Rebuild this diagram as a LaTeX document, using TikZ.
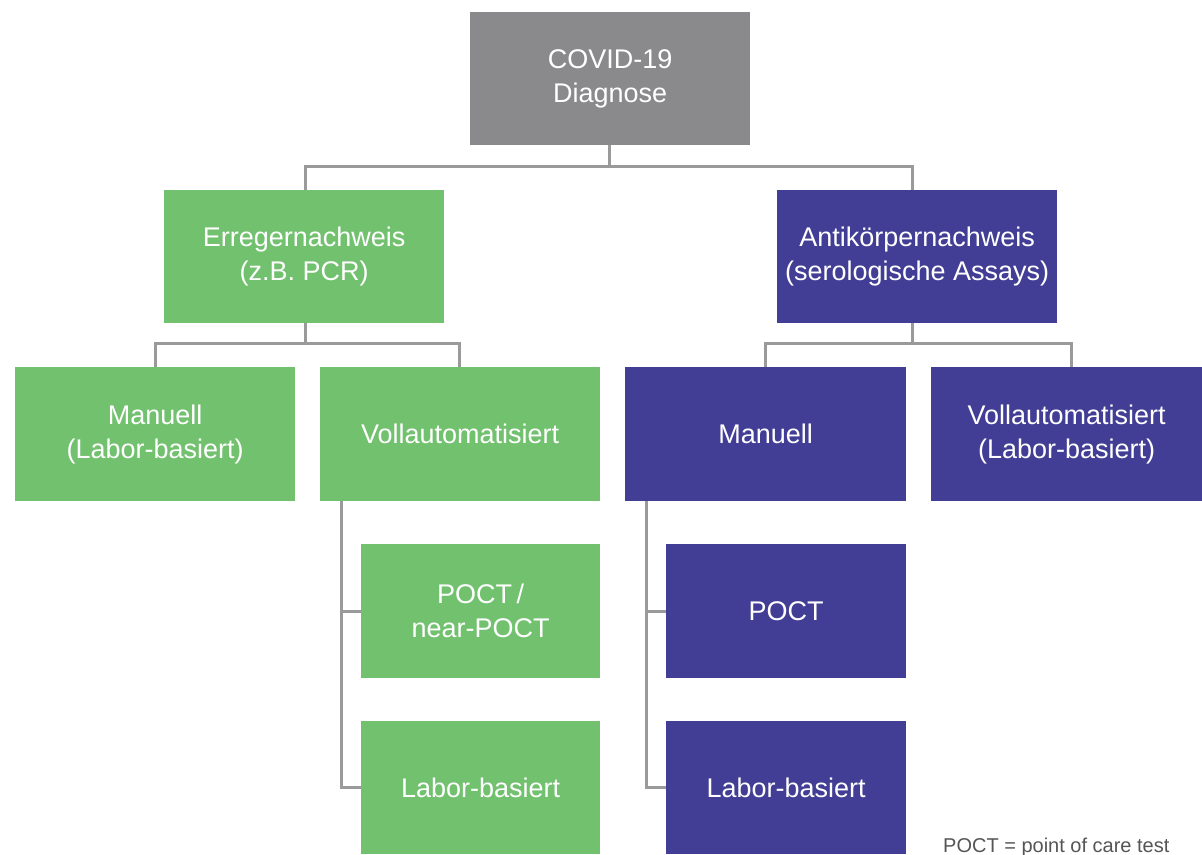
\documentclass[tikz,border=0pt]{standalone}
\usepackage{fontspec}
\setmainfont{Liberation Sans}
\definecolor{cgray}{HTML}{8A8A8C}
\definecolor{cgreen}{HTML}{72C16F}
\definecolor{cpurple}{HTML}{433E95}
\definecolor{cline}{HTML}{9A9A9A}
\definecolor{cnote}{HTML}{555555}
\begin{document}
\begin{tikzpicture}[x=1pt,y=-1pt,
  box/.style={rectangle, anchor=north west, inner sep=0pt, align=center, text=white,
    font=\fontsize{27}{34}\selectfont},
  gbox/.style={box, fill=cgreen},
  pbox/.style={box, fill=cpurple},
  conn/.style={draw=cline, line width=3pt}]
\useasboundingbox (0,0) rectangle (1202,854);
\node[box, fill=cgray, minimum width=280pt, minimum height=133pt] (T) at (470,12) {COVID-19\\Diagnose};
\node[gbox, minimum width=280pt, minimum height=133pt] (E) at (164,190) {Erregernachweis\\(z.B. PCR)};
\node[pbox, minimum width=280pt, minimum height=133pt] (A) at (777,190) {Antikörpernachweis\\(serologische Assays)};
\node[gbox, minimum width=280pt, minimum height=134pt] (M1) at (15,367) {Manuell\\(Labor-basiert)};
\node[gbox, minimum width=280pt, minimum height=134pt] (V1) at (320,367) {Vollautomatisiert};
\node[pbox, minimum width=281pt, minimum height=134pt] (M2) at (625,367) {Manuell};
\node[pbox, minimum width=271pt, minimum height=134pt] (V2) at (931,367) {Vollautomatisiert\\(Labor-basiert)};
\node[gbox, minimum width=239pt, minimum height=134pt] (P1) at (361,544) {POCT\,/\\near-POCT};
\node[gbox, minimum width=239pt, minimum height=133pt] (L1) at (361,721) {Labor-basiert};
\node[pbox, minimum width=240pt, minimum height=134pt] (P2) at (666,544) {POCT};
\node[pbox, minimum width=240pt, minimum height=133pt] (L2) at (666,721) {Labor-basiert};
\node[anchor=base west, inner sep=0pt, text=cnote, font=\fontsize{20}{24}\selectfont] (note) at (943,852) {POCT = point of care test};
% connectors
\draw[conn] ([xshift=-1pt]T.south) -- ++(0,21) -| ([xshift=1pt]E.north);
\draw[conn] ([xshift=-1pt]T.south) -- ++(0,21) -| ([xshift=-5pt]A.north);
\draw[conn] ([xshift=1pt]E.south) -- ++(0,20) -| (M1.north);
\draw[conn] ([xshift=1pt]E.south) -- ++(0,20) -| ([xshift=-1pt]V1.north);
\draw[conn] ([xshift=-5pt]A.south) -- ++(0,20) -| (M2.north);
\draw[conn] ([xshift=-5pt]A.south) -- ++(0,20) -| ([xshift=4.5pt]V2.north);
\draw[conn] ([xshift=21pt]V1.south west) |- (P1.west);
\draw[conn] ([xshift=21pt]V1.south west) |- (L1.west);
\draw[conn] ([xshift=21pt]M2.south west) |- (P2.west);
\draw[conn] ([xshift=21pt]M2.south west) |- (L2.west);
\end{tikzpicture}
\end{document}
